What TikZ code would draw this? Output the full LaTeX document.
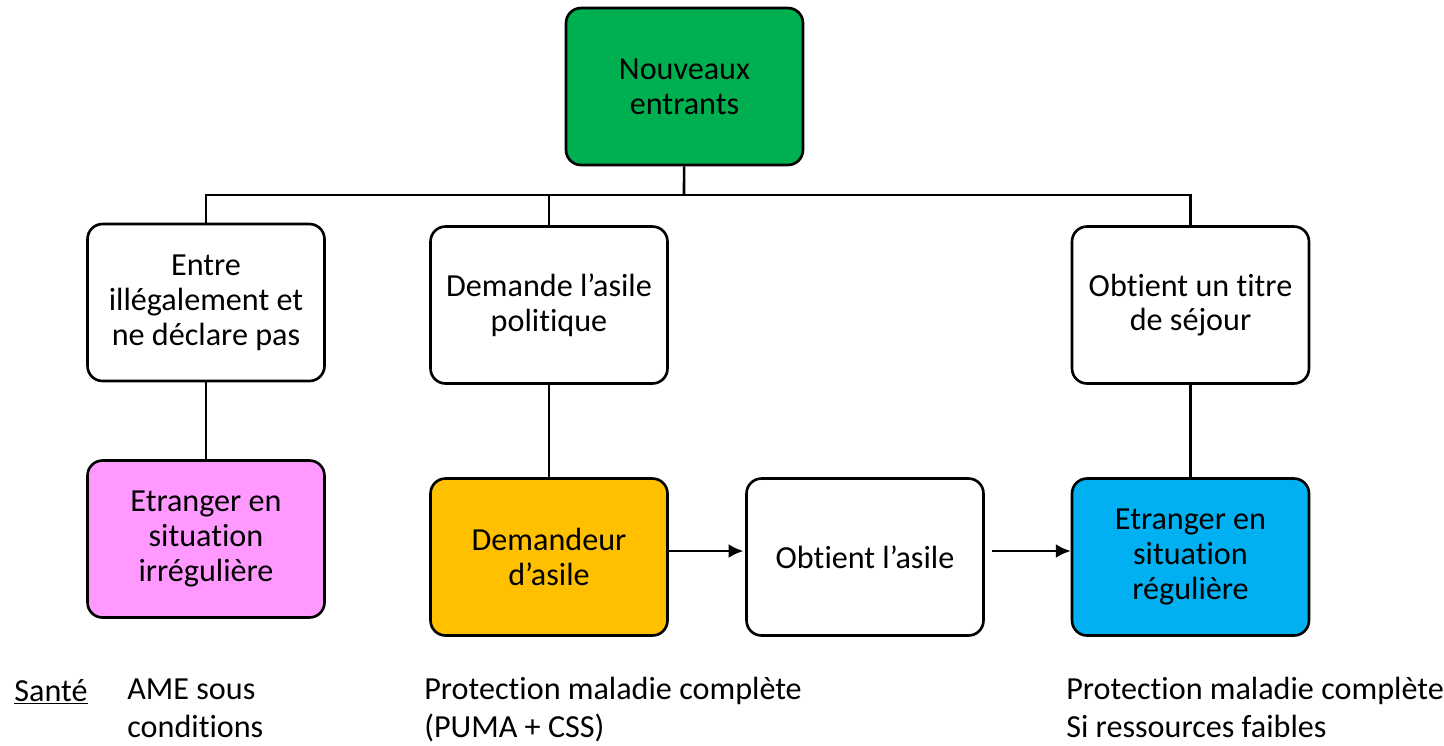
\documentclass[tikz,border=0pt]{standalone}
\usepackage{fontspec}
\setmainfont{Carlito}[Ligatures=NoCommon]
\usetikzlibrary{positioning,arrows.meta}

\definecolor{vertbox}{HTML}{00B050}
\definecolor{rosebox}{HTML}{FF99FF}
\definecolor{orangebox}{HTML}{FFC000}
\definecolor{bleubox}{HTML}{00B0F0}

\tikzset{
  etape/.style={draw, line width=1.5pt, rounded corners=0.3cm, align=center,
    minimum width=4.74cm, minimum height=3.14cm, inner sep=2pt,
    font=\fontsize{18.3pt}{19.8pt}\selectfont},
  lien/.style={line width=1.5pt},
  note/.style={anchor=base west, align=left, inner sep=0pt,
    font=\fontsize{18.3pt}{21.2pt}\selectfont}
}

\begin{document}
\begin{tikzpicture}[x=0.02cm, y=-0.02cm, >={Latex[length=8.5pt,width=8pt]}]
    \useasboundingbox (0,0) rectangle (1444,745);

    % boites
    \node[etape, fill=vertbox] (nouv) at (684.5,86.5) {Nouveaux\\entrants};
    \node[etape] (entre) at (206,302.5) {Entre\\illégalement et\\ne déclare pas};
    \node[etape] (demande) at (549,305) {Demande l’asile\\politique};
    \node[etape] (titre) at (1190.5,305) {Obtient un titre\\de séjour};
    \node[etape, fill=rosebox] (irreg) at (206,539) {Etranger en\\situation\\irrégulière};
    \node[etape, fill=orangebox] (demandeur) at (549,557) {Demandeur\\d’asile};
    \node[etape] (obtient) at (865,557) {Obtient l’asile};
    \node[etape, fill=bleubox] (reg) at (1190.5,557) {Etranger en\\situation\\régulière};

    % arbre
    \coordinate (bus) at (684,195);
    \draw[lien] (nouv) -- (bus);
    \draw[lien] (entre.north) |- (bus) -| (titre.north);
    \draw[lien] (demande.north) -- (demande.north |- bus);
    \draw[lien] (entre) -- (irreg);
    \draw[lien] (demande) -- (demandeur);
    \draw[lien] (titre) -- (reg);

    % fleches
    \draw[lien, ->, shorten >=1pt] (demandeur.east |- 0,551) -- (obtient.west |- 0,551);
    \draw[lien, ->, shorten <=4pt] (obtient.east |- 0,551) -- (reg.west |- 0,551);

    % sante (base = derniere ligne)
    \node[note] (sante) at (14,701) {\underline{Santé}};
    \node[note] (ame) at (127,737) {AME sous\\conditions};
    \node[note] (puma) at (424,737) {Protection maladie complète\\(PUMA + CSS)};
    \node[note] (faibles) at (1066,737) {Protection maladie complète\\Si ressources faibles};

\end{tikzpicture}
\end{document}
